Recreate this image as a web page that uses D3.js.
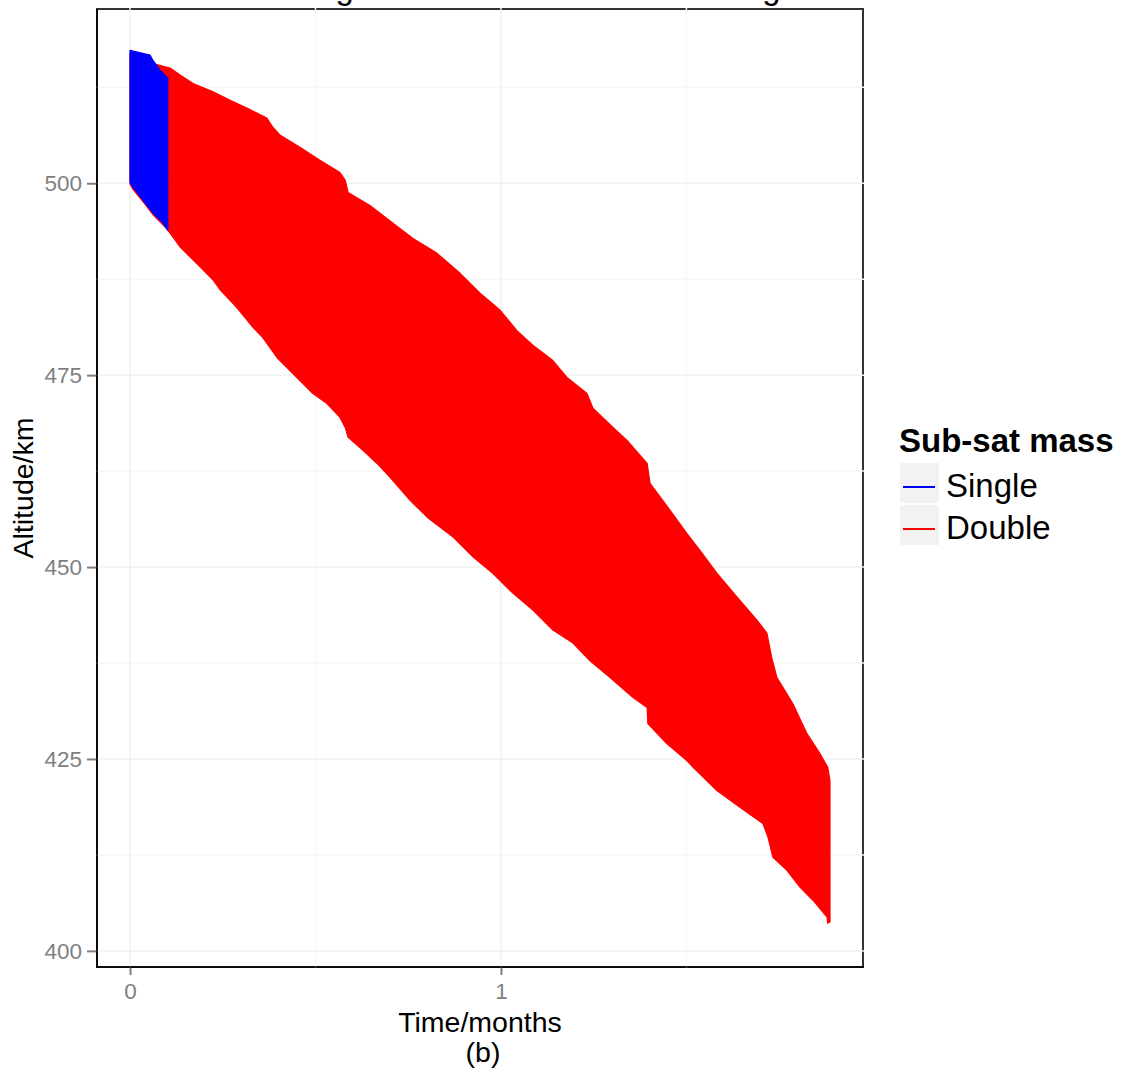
<!DOCTYPE html>
<html>
<head>
<meta charset="utf-8">
<script src="https://cdn.jsdelivr.net/npm/d3@7"></script>
<style>
  body { margin: 0; background: #fff; }
  svg { display: block; font-family: "Liberation Sans", Arial, sans-serif; }
</style>
</head>
<body>
<svg id="chart" width="1129" height="1076"></svg>
<script>
// Axis ticks and labels
const xMajor = [0, 1];
const xMinor = [0.5, 1.5];
const yMajor = [400, 425, 450, 475, 500];
const yMinor = [412.5, 437.5, 462.5, 487.5, 512.5];

const titleText = "Altitude change of the sub-satellites for single and double mass";
const xTitle = "Time/months";
const xCaption = "(b)";
const yTitle = "Altitude/km";
const legendTitle = "Sub-sat mass";
const seriesNames = ["Single", "Double"];
const seriesColours = ["#0000ff", "#ff0000"];

// Envelope of all single-mass runs: [time (months), altitude (km)]
const singleUpper = [
  [0.000, 517.3], [0.054, 516.7], [0.062, 516.0], [0.081, 514.7], [0.102, 513.7]
];
const singleLower = [
  [0.000, 500.1], [0.008, 499.5], [0.035, 497.8], [0.062, 496.1], [0.089, 494.8], [0.102, 493.9]
];

// Envelope of all double-mass runs: [time (months), altitude (km)]
const doubleUpper = [
  [0.000, 516.9], [0.054, 516.3], [0.062, 515.6], [0.108, 515.0], [0.135, 514.1],
  [0.170, 513.0], [0.224, 511.9], [0.270, 510.8], [0.315, 509.8], [0.369, 508.5],
  [0.385, 507.3], [0.404, 506.3], [0.458, 504.7], [0.512, 503.0], [0.566, 501.4],
  [0.580, 500.4], [0.588, 498.8], [0.647, 497.1], [0.709, 494.8], [0.763, 492.8],
  [0.827, 490.9], [0.889, 488.3], [0.943, 485.7], [0.997, 483.5], [1.043, 480.8],
  [1.086, 478.9], [1.140, 476.9], [1.178, 474.7], [1.232, 472.6], [1.248, 470.7],
  [1.302, 468.2], [1.340, 466.5], [1.394, 463.5], [1.402, 460.9], [1.456, 457.4],
  [1.501, 454.4], [1.536, 452.2], [1.582, 449.2], [1.636, 446.1], [1.690, 443.1],
  [1.717, 441.4], [1.730, 438.2], [1.744, 435.6], [1.787, 432.2], [1.825, 428.3],
  [1.860, 425.7], [1.881, 423.9], [1.887, 422.2]
];
const doubleLower = [
  [0.000, 499.9], [0.008, 499.2], [0.035, 497.6], [0.062, 495.9], [0.089, 494.6],
  [0.108, 493.5], [0.135, 491.7], [0.189, 489.1], [0.224, 487.4], [0.243, 486.1],
  [0.288, 483.8], [0.332, 481.2], [0.358, 479.9], [0.396, 477.3], [0.450, 474.7],
  [0.493, 472.6], [0.531, 471.3], [0.566, 469.5], [0.580, 468.2], [0.588, 466.9],
  [0.628, 465.2], [0.666, 463.5], [0.701, 461.7], [0.755, 458.7], [0.801, 456.5],
  [0.871, 453.9], [0.925, 451.3], [0.978, 449.2], [1.032, 446.6], [1.086, 444.4],
  [1.140, 441.8], [1.194, 440.1], [1.240, 437.8], [1.294, 435.6], [1.356, 433.0],
  [1.394, 431.7], [1.396, 429.6], [1.447, 427.0], [1.501, 424.8], [1.518, 423.9],
  [1.582, 420.9], [1.644, 418.7], [1.706, 416.6], [1.720, 414.8], [1.733, 412.2],
  [1.771, 410.5], [1.806, 408.3], [1.841, 406.6], [1.879, 404.4], [1.881, 403.6],
  [1.887, 403.8]
];

const svg = d3.select("#chart");
const panel = { left: 97, right: 863, top: 9, bottom: 967 };

const x = d3.scaleLinear().domain([-0.089, 1.976]).range([panel.left, panel.right]);
const y = d3.scaleLinear().domain([397.9, 522.7]).range([panel.bottom, panel.top]);

// Title (sits above the canvas; only descenders show)
svg.append("text")
  .attr("x", 146).attr("y", -1)
  .attr("font-size", 32.8)
  .attr("fill", "#000")
  .text(titleText);

// Panel background and border
svg.append("rect")
  .attr("x", panel.left).attr("y", panel.top)
  .attr("width", panel.right - panel.left).attr("height", panel.bottom - panel.top)
  .attr("fill", "#fff").attr("stroke", "#333").attr("stroke-width", 2);

// Grid lines (drawn over the border)
const grid = svg.append("g");
grid.selectAll(".vmin").data(xMinor).join("line")
  .attr("x1", d => x(d)).attr("x2", d => x(d))
  .attr("y1", panel.top - 1).attr("y2", panel.bottom + 1)
  .attr("stroke", "#f6f6f6").attr("stroke-width", 1.5);
grid.selectAll(".hmin").data(yMinor).join("line")
  .attr("y1", d => y(d)).attr("y2", d => y(d))
  .attr("x1", panel.left - 1).attr("x2", panel.right + 1)
  .attr("stroke", "#f6f6f6").attr("stroke-width", 1.5);
grid.selectAll(".vmaj").data(xMajor).join("line")
  .attr("x1", d => x(d)).attr("x2", d => x(d))
  .attr("y1", panel.top - 1).attr("y2", panel.bottom + 1)
  .attr("stroke", "#f1f1f1").attr("stroke-width", 1.5);
grid.selectAll(".hmaj").data(yMajor).join("line")
  .attr("y1", d => y(d)).attr("y2", d => y(d))
  .attr("x1", panel.left - 1).attr("x2", panel.right + 1)
  .attr("stroke", "#f1f1f1").attr("stroke-width", 1.5);

// Envelopes: upper edge forward, lower edge back
const outline = d3.line().x(d => x(d[0])).y(d => y(d[1]));
function envelope(upper, lower) {
  return outline(upper.concat(lower.slice().reverse())) + "Z";
}
svg.append("path")
  .attr("d", envelope(doubleUpper, doubleLower))
  .attr("fill", seriesColours[1]).attr("stroke", seriesColours[1]).attr("stroke-width", 1.2)
  .attr("stroke-linejoin", "round");
svg.append("path")
  .attr("d", envelope(singleUpper, singleLower))
  .attr("fill", seriesColours[0]).attr("stroke", seriesColours[0]).attr("stroke-width", 1.2)
  .attr("stroke-linejoin", "round");

// Axes
const yAxis = d3.axisLeft(y).tickValues(yMajor).tickSize(10).tickPadding(5).tickFormat(d3.format("d"));
const xAxis = d3.axisBottom(x).tickValues(xMajor).tickSize(8).tickPadding(8).tickFormat(d3.format("d"));

const gy = svg.append("g").attr("transform", `translate(${panel.left},0)`).call(yAxis);
const gx = svg.append("g").attr("transform", `translate(0,${panel.bottom})`).call(xAxis);
[gx, gy].forEach(g => {
  g.select(".domain").remove();
  g.selectAll(".tick line").attr("stroke", "#7f7f7f").attr("stroke-width", 2);
  g.selectAll(".tick text").attr("fill", "#7f7f7f").attr("font-size", 22.5)
    .attr("font-family", "Liberation Sans, Arial, sans-serif");
});

// Axis lines on left and bottom
svg.append("line")
  .attr("x1", panel.left).attr("x2", panel.left)
  .attr("y1", panel.top).attr("y2", panel.bottom + 1)
  .attr("stroke", "#000").attr("stroke-width", 1.6);
svg.append("line")
  .attr("x1", panel.left - 1).attr("x2", panel.right + 1)
  .attr("y1", panel.bottom).attr("y2", panel.bottom)
  .attr("stroke", "#000").attr("stroke-width", 1.6);

// Axis titles
const midX = (panel.left + panel.right) / 2;
const midY = (panel.top + panel.bottom) / 2;
svg.append("text")
  .attr("x", midX).attr("y", 1032)
  .attr("text-anchor", "middle").attr("font-size", 28.5).attr("fill", "#000")
  .text(xTitle);
svg.append("text")
  .attr("x", midX + 3).attr("y", 1062)
  .attr("text-anchor", "middle").attr("font-size", 28.5).attr("fill", "#000")
  .text(xCaption);
svg.append("text")
  .attr("transform", `translate(33,${midY}) rotate(-90)`)
  .attr("text-anchor", "middle").attr("font-size", 28.5).attr("fill", "#000")
  .text(yTitle);

// Legend
const legend = svg.append("g").attr("transform", "translate(899,0)");
legend.append("text")
  .attr("x", 0).attr("y", 452)
  .attr("font-size", 33).attr("font-weight", "bold").attr("fill", "#000")
  .text(legendTitle);
const keyTop = [463, 505];
const keys = legend.selectAll(".key").data(seriesNames).join("g")
  .attr("transform", (d, i) => `translate(0,${keyTop[i]})`);
keys.append("rect")
  .attr("x", 1).attr("y", 0).attr("width", 39).attr("height", 40)
  .attr("fill", "#f2f2f2");
keys.append("line")
  .attr("x1", 4).attr("x2", 36).attr("y1", 24).attr("y2", 24)
  .attr("stroke", (d, i) => seriesColours[i]).attr("stroke-width", 2);
keys.append("text")
  .attr("x", 47).attr("y", 34)
  .attr("font-size", 33).attr("fill", "#000")
  .text(d => d);
</script>
</body>
</html>
